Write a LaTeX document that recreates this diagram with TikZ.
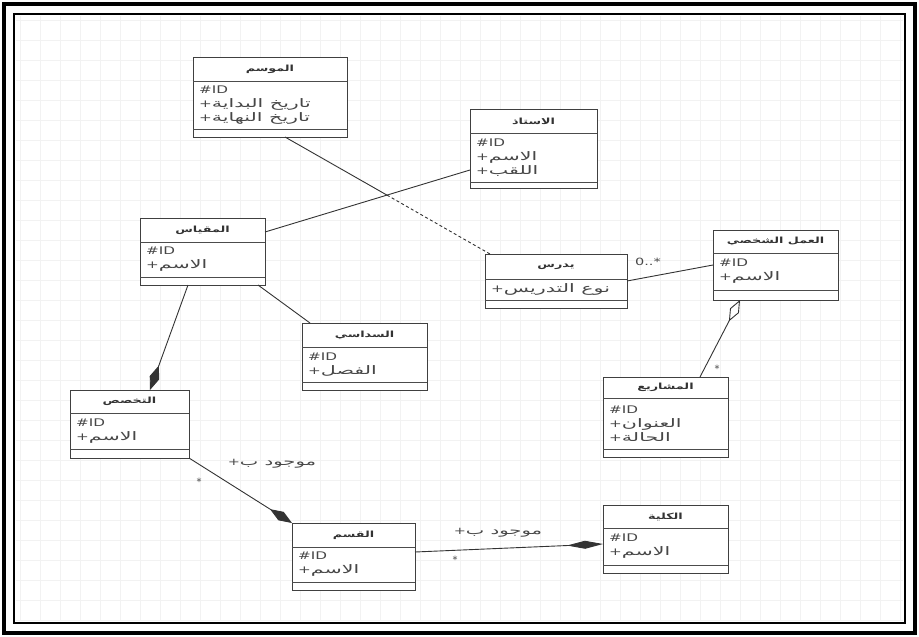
\documentclass[tikz,border=0pt]{standalone}
\usepackage{fontspec}
\setmainfont{DejaVu Sans}
\newfontfamily\arfont[Script=Arabic,Scale=1.12,FakeStretch=1.75]{DejaVu Sans}
\newfontfamily\artfont[Script=Arabic,FakeStretch=1.5]{DejaVu Sans}
\newfontfamily\latfont[FakeStretch=1.45]{DejaVu Sans}
\TeXXeTstate=1
\usetikzlibrary{arrows.meta,calc}
\newcommand\ar[1]{{\arfont\beginR #1\endR}}
\newcommand\art[1]{{\artfont\bfseries\beginR #1\endR}}
\newcommand\idline{{\latfont\#ID}}
\newcommand\pl{{\latfont+}}
\tikzset{
  clsbox/.style={draw=black!75, line width=1pt, fill=white, inner sep=0pt, outer sep=0pt},
  sepline/.style={draw=black!70, line width=0.9pt},
  ttl/.style={font=\fontsize{8.5}{10}\selectfont, text=black!80, inner sep=0pt},
  attr/.style={font=\fontsize{10.5}{14}\selectfont, text=black!72, align=left, inner sep=0pt},
  conn/.style={draw=black!80, line width=0.9pt},
  lbl/.style={font=\fontsize{10}{11}\selectfont, text=black!72, inner sep=0pt},
  filldia/.style={-{Diamond[length=26pt,width=10pt]}},
}
% #1 name, #2 x1, #3 y1, #4 x2, #5 y2, #6 header sep, #7 lower sep, #8 title, #9 attributes
\newcommand\umlclass[9]{%
  \node[clsbox, anchor=north west, minimum width={(#4-#2)*1pt}, minimum height={(#5-#3)*1pt}] (#1) at (#2,#3) {};
  \draw[sepline] (#2,#6) -- (#4,#6);
  \draw[sepline] (#2,#7) -- (#4,#7);
  \node[ttl] (#1-t) at ({(#2+#4)/2},{(#3+#6)/2}) {#8};
  \node[attr, anchor=west] (#1-a) at (#2+6,{(#6+#7)/2}) {#9};
}
\begin{document}
\begin{tikzpicture}[x=1pt,y=-1pt]
\useasboundingbox (0,0) rectangle (919,637);
\fill[white] (0,0) rectangle (919,637);
% faint grid
\draw[black!5, line width=0.4pt] (16,16) grid[step=20pt] (903,621);
% frame
\draw[line width=4pt] (4,4) rectangle (915,633);
\draw[line width=1.4pt] (14,14) rectangle (905,623);

\umlclass{mawsim}{193}{57}{347}{137}{81}{129}{\art{الموسم}}{\idline\\\pl\ar{تاريخ البداية}\\\pl\ar{تاريخ النهاية}}
\umlclass{ustadh}{470}{109}{597}{188}{133}{182}{\art{الاستاذ}}{\idline\\\pl\ar{الاسم}\\\pl\ar{اللقب}}
\umlclass{muqyas}{140}{218}{265}{285}{242}{277}{\art{المقياس}}{\idline\\\pl\ar{الاسم}}
\umlclass{yadrus}{485}{254}{627}{308}{279}{300}{\art{يدرس}}{\pl\ar{نوع التدريس}}
\umlclass{amal}{713}{230}{838}{300}{253}{290}{\art{العمل الشخصي}}{\idline\\\pl\ar{الاسم}}
\umlclass{sudasi}{302}{323}{427}{390}{347}{382}{\art{السداسي}}{\idline\\\pl\ar{الفصل}}
\umlclass{takhassus}{70}{390}{189}{458}{413}{449}{\art{التخصص}}{\idline\\\pl\ar{الاسم}}
\umlclass{mashari}{603}{377}{728}{457}{398}{449}{\art{المشاريع}}{\idline\\\pl\ar{العنوان}\\\pl\ar{الحالة}}
\umlclass{qism}{292}{523}{415}{590}{547}{582}{\art{القسم}}{\idline\\\pl\ar{الاسم}}
\umlclass{kulliya}{603}{505}{728}{573}{528}{565}{\art{الكلية}}{\idline\\\pl\ar{الاسم}}

% connectors
\draw[conn] ([yshift=19.5pt]muqyas.east) -- coordinate[pos=0.595] (mid) ([yshift=-21.5pt]ustadh.west);
\draw[conn] ([xshift=15pt]mawsim.south) -- (mid);
\draw[conn, dash pattern=on 3pt off 2.5pt] (mid) -- ([xshift=5pt]yadrus.north west);
\draw[conn] ([xshift=55.5pt]muqyas.south) -- ([xshift=-54.5pt]sudasi.north);
\draw[conn, filldia] ([xshift=-14.5pt]muqyas.south) -- ([xshift=20.5pt]takhassus.north);
\draw[conn, filldia] (takhassus.south east) -- (qism.north west);
\draw[conn, -{Diamond[length=36pt,width=8pt]}] ([yshift=4.5pt]qism.east) -- ([yshift=-5pt]kulliya.west);
\draw[conn] (yadrus.east) -- (amal.west);
\draw[conn, {Diamond[open,length=24pt,width=10pt]}-] ([xshift=-35.5pt]amal.south) -- ([xshift=34.5pt]mashari.north);

% labels
\node[lbl] (l1) at (272,464) {\pl\ar{موجود ب}};
\node[lbl] (s1) at (199,482) {*};
\node[lbl] (l2) at (498,533) {\pl\ar{موجود ب}};
\node[lbl] (s2) at (455,560) {*};
\node[lbl] (m1) at (648,262) {{\latfont 0..*}};
\node[lbl] (s3) at (717,369) {*};
\end{tikzpicture}
\end{document}
